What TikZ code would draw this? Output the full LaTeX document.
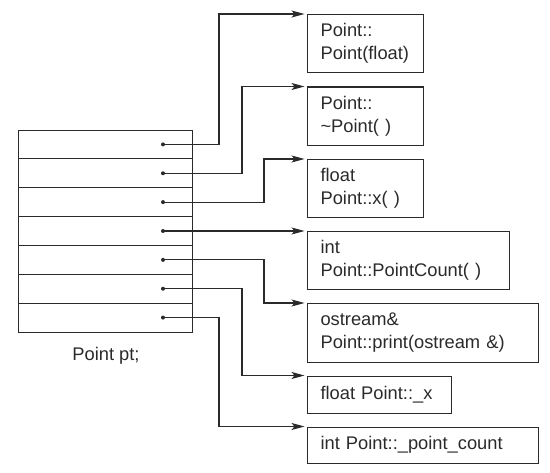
\documentclass[tikz,border=0pt]{standalone}
\usepackage{fontspec}
\setmainfont{Liberation Sans}
\usetikzlibrary{arrows.meta}
\definecolor{ink}{HTML}{2A2A2A}
\begin{document}
\begin{tikzpicture}[x=1bp,y=-1bp,
  lbl/.style={font=\fontsize{18.3bp}{23bp}\selectfont, text=ink},
  box/.style={lbl, draw=ink, line width=1.1bp, anchor=north west, align=left,
    inner xsep=13bp, inner ysep=0pt},
  conn/.style={draw=ink, line width=1.1bp, -{Stealth[length=13bp,width=7bp,inset=3bp]}, shorten >=2.5bp},
  dotnode/.style={circle, fill=ink, inner sep=0pt, minimum size=4bp},
  tline/.style={draw=ink, line width=1.1bp}]
\useasboundingbox (0,0) rectangle (550,473);
% table
\node[tline, anchor=north west, minimum width=174bp, minimum height=202bp, inner sep=0pt] (tbl) at (18,130) {};
\foreach \k in {1,...,6} \draw[tline] (18,{130+\k*202/7}) -- (192,{130+\k*202/7});
\foreach \k in {1,...,7} \node[dotnode] (d\k) at (163,{130+(\k-0.5)*202/7}) {};
\node[lbl] (cap) at (106,356) {Point pt;};
% boxes
\node[box, minimum width=116bp, minimum height=58bp, text width=90bp] (b1) at (307,14) {Point::\\Point(float)};
\node[box, minimum width=116bp, minimum height=58.5bp, text width=90bp] (b2) at (307,86.5) {Point::\\\textasciitilde Point( )};
\node[box, minimum width=116bp, minimum height=58bp, text width=90bp] (b3) at (307,159) {float\\Point::x( )};
\node[box, minimum width=202bp, minimum height=58bp, text width=176bp] (b4) at (307,231) {int\\Point::PointCount( )};
\node[box, minimum width=231bp, minimum height=59bp, text width=205bp] (b5) at (307,303) {ostream\&\\Point::print(ostream \&)};
\node[box, minimum width=144bp, minimum height=37bp, text width=118bp] (b6) at (307,375.5) {float Point::\_x};
\node[box, minimum width=231bp, minimum height=36bp, text width=205bp] (b7) at (307,426.5) {int Point::\_point\_count};
% waypoint columns
\coordinate (xa) at (219,0);
\coordinate (xb) at (242,0);
\coordinate (xc) at (264,0);
% connectors
\draw[conn] (d1.center) -- (d1.center -| xa) |- (b1.north west);
\draw[conn] (d2.center) -- (d2.center -| xb) |- (b2.north west);
\draw[conn] (d3.center) -- (d3.center -| xc) |- (b3.north west);
\draw[conn] (d4.center) -- (d4.center -| b4.north west);
\draw[conn] (d5.center) -- (d5.center -| xc) |- (b5.north west);
\draw[conn] (d6.center) -- (d6.center -| xb) |- (b6.north west);
\draw[conn] (d7.center) -- (d7.center -| xa) |- (b7.north west);
\end{tikzpicture}
\end{document}
